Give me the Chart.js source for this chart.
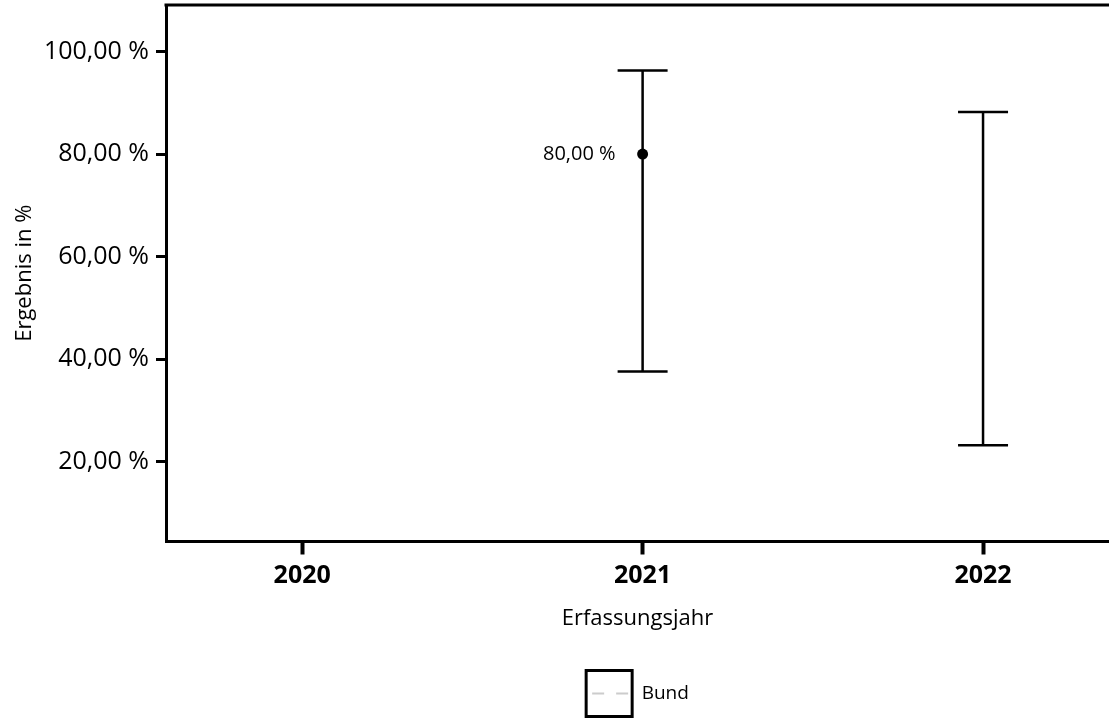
<!DOCTYPE html>
<html>
<head>
<meta charset="utf-8">
<script src="https://cdn.jsdelivr.net/npm/chart.js@4"></script>
<style>
  html, body { margin: 0; padding: 0; background: #fff; }
</style>
</head>
<body>
<canvas id="myChart" width="1109" height="719"></canvas>
<script>
// Werte
var years = [2020, 2021, 2022];
var werte = [null, 80, null];
var untere = [null, 37.6, 23.2];
var obere = [null, 96.3, 88.2];
var yTicks = [20, 40, 60, 80, 100];
var bundWerte = [null, null, null];

function prozent(v) {
  return v.toFixed(2).replace(".", ",") + " %";
}

var errorBars = {
  id: "errorBars",
  // Fehlerbalken (Vertrauensbereich)
  beforeDatasetsDraw: function (chart) {
    var ctx = chart.ctx;
    var xs = chart.scales.x;
    var ys = chart.scales.y;
    ctx.save();
    ctx.strokeStyle = "#000";
    ctx.lineWidth = 2.5;
    for (var i = 0; i < years.length; i++) {
      if (untere[i] == null) continue;
      var x = xs.getPixelForValue(years[i]);
      var yLo = ys.getPixelForValue(untere[i]);
      var yHi = ys.getPixelForValue(obere[i]);
      ctx.beginPath();
      ctx.moveTo(x, yLo);
      ctx.lineTo(x, yHi);
      ctx.moveTo(x - 25, yLo);
      ctx.lineTo(x + 25, yLo);
      ctx.moveTo(x - 25, yHi);
      ctx.lineTo(x + 25, yHi);
      ctx.stroke();
    }
    ctx.restore();
  },
  // Wertebeschriftung links vom Punkt
  afterDatasetsDraw: function (chart) {
    var ctx = chart.ctx;
    var xs = chart.scales.x;
    var ys = chart.scales.y;
    ctx.save();
    ctx.fillStyle = "#000";
    ctx.font = "20px 'Open Sans'";
    ctx.textAlign = "right";
    ctx.textBaseline = "middle";
    for (var i = 0; i < years.length; i++) {
      if (werte[i] == null) continue;
      ctx.fillText(prozent(werte[i]), xs.getPixelForValue(years[i]) - 27, ys.getPixelForValue(werte[i]));
    }
    ctx.restore();
  },
  afterDraw: function (chart) {
    var a = chart.chartArea;
    var ctx = chart.ctx;
    ctx.save();
    // obere Rahmenlinie
    ctx.strokeStyle = "#000";
    ctx.lineWidth = 3;
    ctx.beginPath();
    ctx.moveTo(a.left - 1.5, a.top);
    ctx.lineTo(chart.width, a.top);
    ctx.stroke();
    // gestrichelte Linie im Legendenkasten
    var hb = chart.legend.legendHitBoxes[0];
    if (hb) {
      ctx.strokeStyle = "#cccccc";
      ctx.lineWidth = 2;
      ctx.setLineDash([12, 12]);
      ctx.beginPath();
      ctx.moveTo(hb.left + 6, hb.top + hb.height / 2);
      ctx.lineTo(hb.left + 42, hb.top + hb.height / 2);
      ctx.stroke();
    }
    ctx.restore();
  }
};

Chart.defaults.font.family = "'Open Sans', sans-serif";
Chart.defaults.color = "#000";

var chartArea = document.getElementById("myChart").getContext("2d");
var myChart = new Chart(chartArea, {
  type: "scatter",
  data: {
    datasets: [
      {
        label: "Ergebnis",
        data: years.map(function (y, i) { return { x: y, y: werte[i] }; }),
        backgroundColor: "#000",
        borderColor: "#000",
        borderWidth: 0,
        pointRadius: 5.5,
      },
      {
        type: "line",
        label: "Bund",
        data: years.map(function (y, i) { return { x: y, y: bundWerte[i] }; }),
        borderColor: "#cccccc",
        borderDash: [12, 12],
        borderWidth: 2,
        pointRadius: 0,
      },
    ],
  },
  options: {
    responsive: false,
    animation: false,
    layout: { autoPadding: false, padding: { top: 5, right: 0, bottom: -7.5, left: 0 } },
    plugins: {
      tooltip: { enabled: false },
      legend: {
        position: "bottom",
        fullSize: false,
        labels: {
          generateLabels: function (chart) {
            return [{
              text: "Bund",
              fillStyle: "#fff",
              strokeStyle: "#000",
              lineWidth: 3,
              lineDash: [],
              hidden: false,
              datasetIndex: 1,
            }];
          },
          boxWidth: 46,
          boxHeight: 46,
          padding: 2,
          font: { size: 19 },
          color: "#000",
        },
      },
    },
    scales: {
      x: {
        type: "linear",
        min: 2019.6,
        max: 2022.37,
        afterBuildTicks: function (scale) {
          scale.ticks = years.map(function (v) { return { value: v }; });
        },
        afterFit: function (scale) {
          scale.height = 127;
          scale.paddingLeft = 0;
          scale.paddingRight = 0;
        },
        ticks: {
          callback: function (v) { return String(v); },
          font: { size: 25, weight: "bold" },
          padding: 6,
          maxRotation: 0,
          autoSkip: false,
        },
        grid: {
          drawOnChartArea: false,
          tickLength: 13,
          tickWidth: 4,
          tickColor: "#000",
        },
        border: { color: "#000", width: 3 },
        title: {
          display: true,
          text: "Erfassungsjahr",
          font: { size: 22 },
          padding: { top: 0, bottom: 37 },
        },
      },
      y: {
        min: 4.4,
        max: 109.1,
        afterBuildTicks: function (scale) {
          scale.ticks = yTicks.map(function (v) { return { value: v }; });
        },
        afterFit: function (scale) {
          scale.width = 166;
          scale.paddingTop = 0;
          scale.paddingBottom = 0;
        },
        ticks: {
          callback: function (v) { return prozent(v); },
          font: { size: 25 },
          padding: 7,
        },
        grid: {
          drawOnChartArea: false,
          tickLength: 10,
          tickWidth: 3,
          tickColor: "#000",
        },
        border: { color: "#000", width: 3 },
        title: {
          display: true,
          text: "Ergebnis in %",
          font: { size: 22 },
          padding: { top: 12, bottom: 0 },
        },
      },
    },
  },
  plugins: [errorBars],
});
</script>
</body>
</html>
